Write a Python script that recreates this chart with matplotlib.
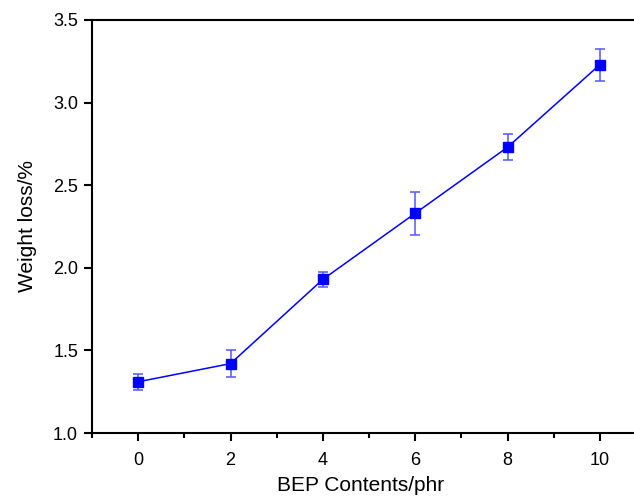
import matplotlib.pyplot as plt
from matplotlib.ticker import MultipleLocator

plt.rcParams['font.family'] = ['Liberation Sans', 'DejaVu Sans']

bep_contents = [0, 2, 4, 6, 8, 10]
weight_loss = [1.31, 1.42, 1.93, 2.33, 2.73, 3.23]
weight_loss_err = [0.05, 0.08, 0.045, 0.13, 0.078, 0.097]

fig = plt.figure(figsize=(6.34, 5.0), dpi=100)
ax = fig.add_axes([0.1451, 0.134, 0.874, 0.826])

ax.errorbar(bep_contents, weight_loss, yerr=weight_loss_err, color="#0000ff",
            marker="s", markersize=7, linewidth=1.1, ecolor="#5555ff",
            elinewidth=1.1, capsize=3.5, capthick=1.1)

ax.set_xlim(-1, 11)
ax.set_ylim(1.0, 3.5)
ax.xaxis.set_major_locator(MultipleLocator(2))
ax.xaxis.set_minor_locator(MultipleLocator(1))
ax.yaxis.set_major_locator(MultipleLocator(0.5))
ax.yaxis.set_major_formatter(plt.FormatStrFormatter("%.1f"))

for side in ["left", "top", "bottom"]:
    ax.spines[side].set_linewidth(1.5)
ax.spines["right"].set_visible(False)
ax.tick_params(which="major", direction="out", length=6, width=1.5, labelsize=13)
ax.tick_params(which="minor", direction="out", length=3.5, width=1.5)
ax.tick_params(axis="x", pad=8)
ax.tick_params(axis="y", pad=4)

ax.set_xlabel("BEP Contents/phr", fontsize=15)
ax.xaxis.set_label_coords(0.484, -0.105)
ax.set_ylabel("Weight loss/%", fontsize=15)
ax.yaxis.set_label_coords(-0.1, 0.5)

fig.savefig("out.png", dpi=100)
